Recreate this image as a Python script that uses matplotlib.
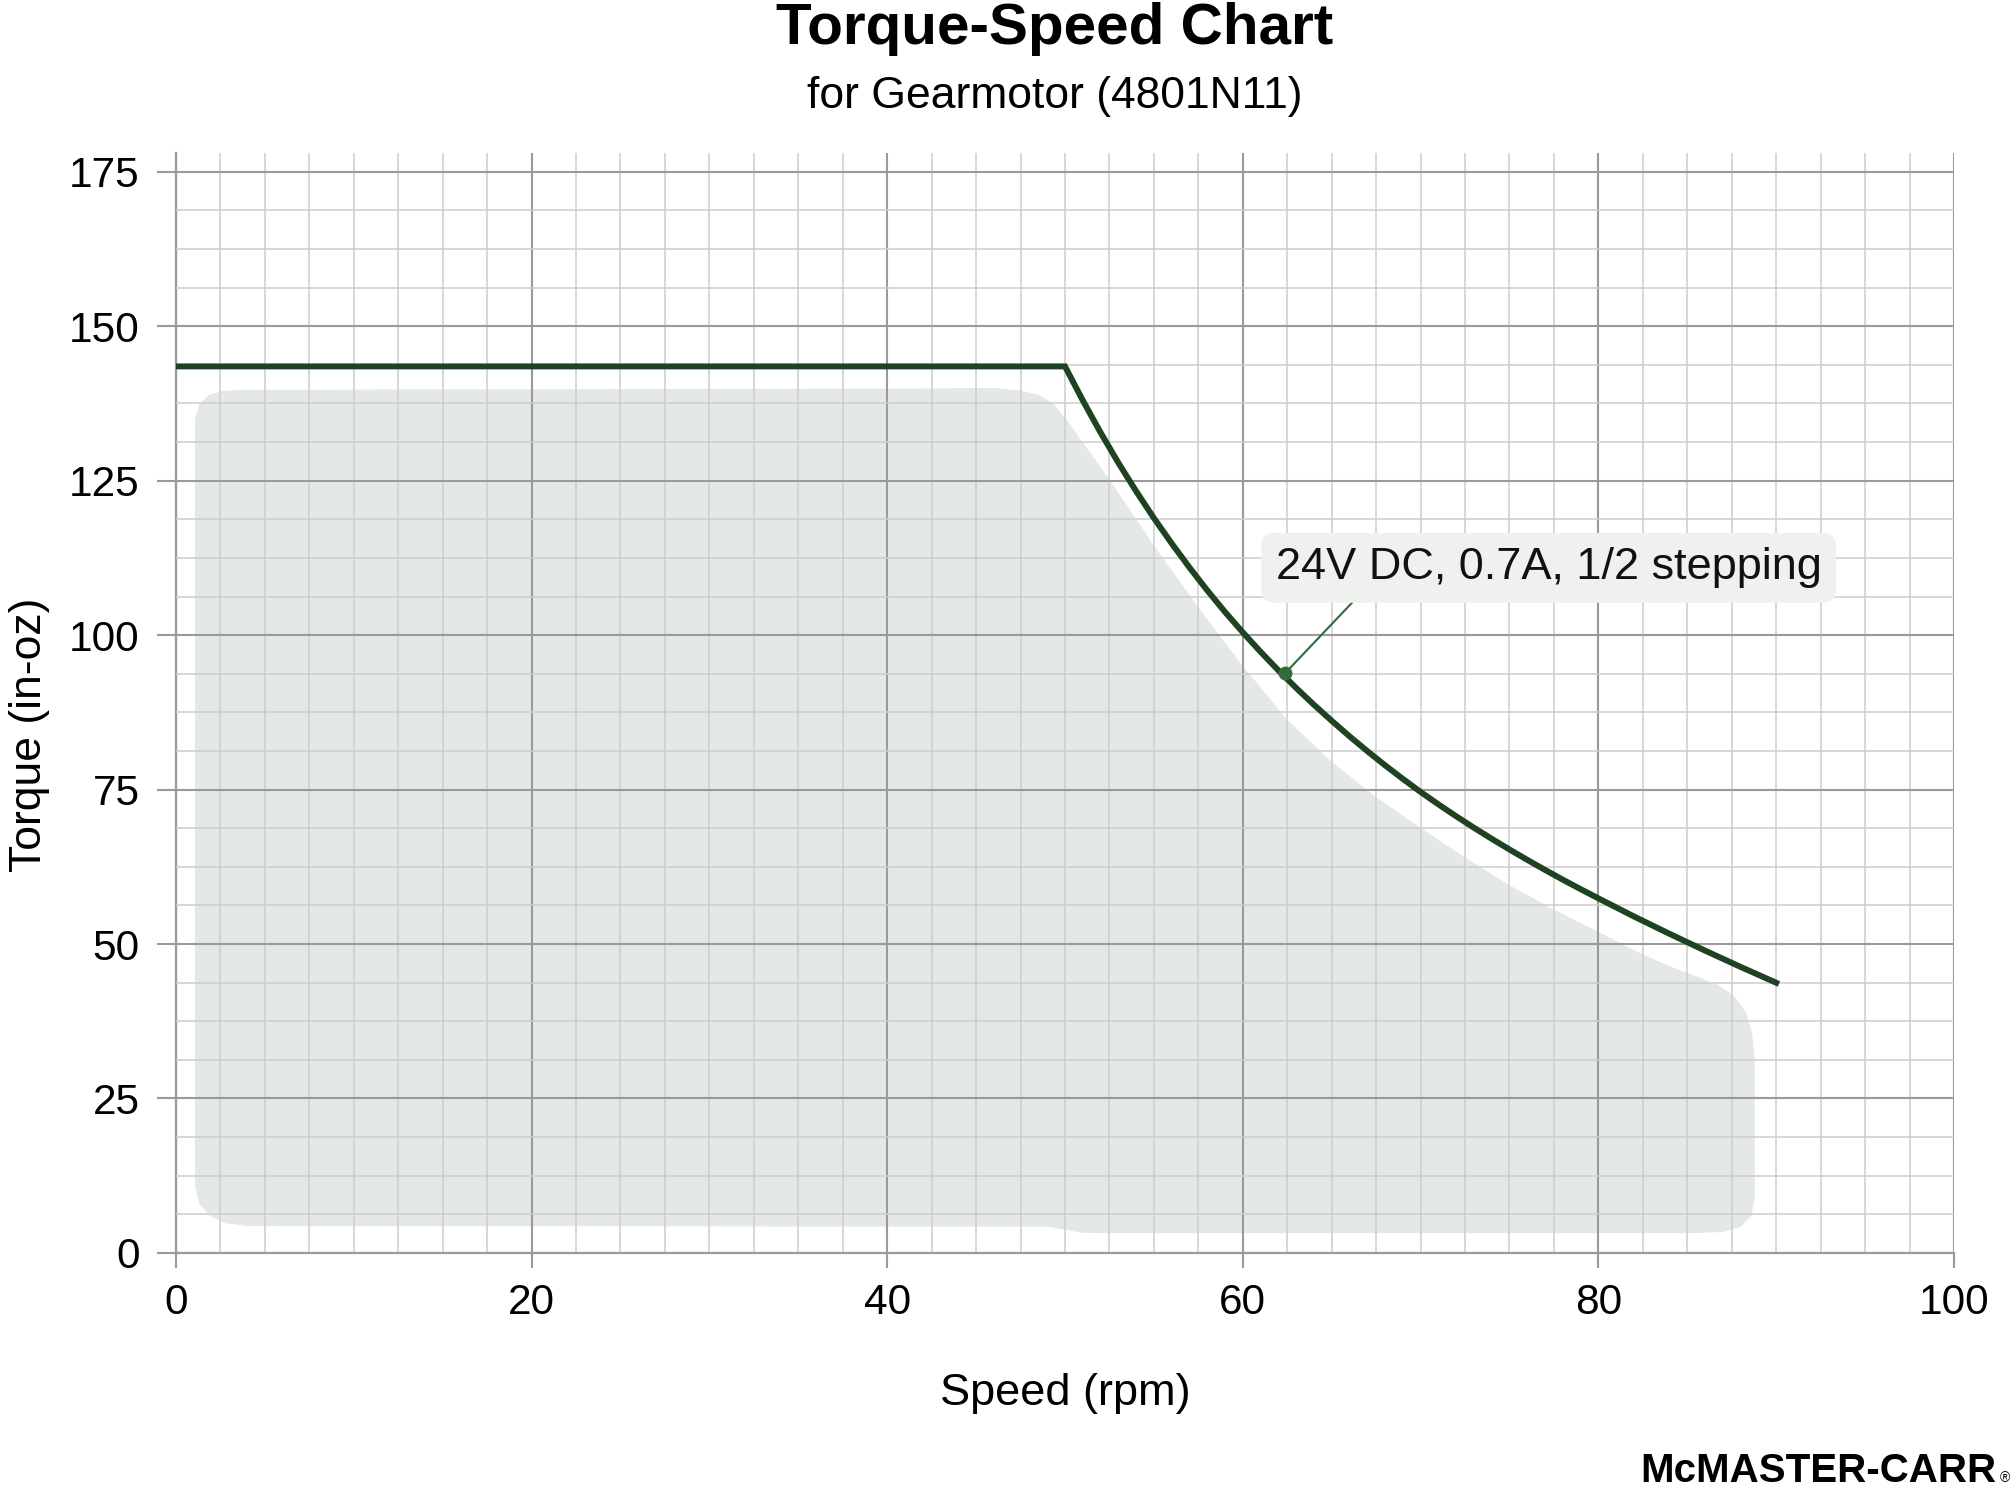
import matplotlib.pyplot as plt
from matplotlib.ticker import MultipleLocator

plt.rcParams['font.family'] = ['Liberation Sans', 'DejaVu Sans']

# curve data (speed rpm, torque in-oz)
speed = [0, 50, 51, 52, 53, 54, 55, 56, 57, 58, 59, 60, 61, 62, 63, 64, 65, 66, 67, 68, 69,
         70, 71, 72, 73, 74, 75, 76, 77, 78, 79, 80, 82, 84, 86, 88, 90]
torque = [143.5, 143.5, 138.0, 132.8, 127.9, 123.3, 118.95, 114.85, 110.95, 107.25, 103.75,
          100.45, 97.3, 94.3, 91.45, 88.73, 86.13, 83.63, 81.23, 78.93, 76.73,
          74.61, 72.61, 70.68, 68.82, 67.03, 65.30, 63.62, 61.99, 60.41, 58.88,
          57.39, 54.46, 51.65, 48.93, 46.29, 43.73]
curve_label = '24V DC, 0.7A, 1/2 stepping'
label_speed, label_torque = 62.4, 93.9   # where the callout touches the curve

# soft shaded operating region behind the curve
blob_x = [1.07, 1.3, 1.8, 2.6, 3.5, 20, 40, 46, 47.5, 48.5, 49.3, 50.2, 51.0, 52.5, 55.0,
          57.5, 60.0, 62.5, 65.0, 67.5, 70.0, 72.5, 75.0, 77.5, 80.0, 82.0, 84.0, 85.5,
          86.7, 87.6, 88.3, 88.65, 88.8, 88.8, 88.6, 88.0, 87.0, 85.5, 52, 51, 49, 4.0,
          2.8, 1.9, 1.3, 1.07]
blob_y = [135, 137.3, 138.8, 139.5, 139.7, 139.8, 139.9, 140.0, 139.6, 138.9, 137.6, 134.5,
          131.2, 125.2, 114.5, 104.5, 95.0, 86.3, 79.5, 73.8, 68.8, 64.0, 59.5, 55.6, 52.0,
          49.0, 46.4, 44.8, 43.4, 41.7, 39.0, 35.5, 31.0, 9.0, 6.0, 4.2, 3.4, 3.2, 3.2,
          3.25, 4.25, 4.35, 4.8, 6.0, 8.0, 11.0]

LINE = '#1f4322'
CALLOUT = '#336b38'
MAJOR = '#9a9a9a'
MINOR = '#cdcdcd'

fig = plt.figure(figsize=(20.13, 14.88), dpi=100)
ax = fig.add_axes([0.0874, 0.158, 0.8833, 0.739])

ax.fill(blob_x, blob_y, color='#e5e9e6', lw=0, zorder=0.2)

ax.set_xlim(0, 100)
ax.set_ylim(0, 178)
ax.xaxis.set_major_locator(MultipleLocator(20))
ax.xaxis.set_minor_locator(MultipleLocator(2.5))
ax.yaxis.set_major_locator(MultipleLocator(25))
ax.yaxis.set_minor_locator(MultipleLocator(6.25))
ax.grid(which='major', color=MAJOR, lw=1.5, zorder=0.5)
ax.grid(which='minor', color=MINOR, lw=1.1, zorder=0.5)
ax.set_axisbelow(False)

for s in ['top', 'right']:
    ax.spines[s].set_visible(False)
for s in ['left', 'bottom']:
    ax.spines[s].set_color(MAJOR)
    ax.spines[s].set_linewidth(1.6)

ax.tick_params(axis='both', which='minor', length=0)
ax.tick_params(axis='x', which='major', length=11, width=1.5, color=MAJOR, pad=11, labelsize=30.5)
ax.tick_params(axis='y', which='major', length=14, width=1.5, color=MAJOR, pad=12, labelsize=30.5)

ax.plot(speed, torque, color=LINE, lw=4.3, solid_joinstyle='miter', zorder=3)

ax.plot(label_speed, label_torque, 'o', color=CALLOUT, ms=9, zorder=4)
ax.annotate(curve_label, xy=(label_speed, label_torque), xytext=(77.2, 110.9),
            ha='center', va='center', fontsize=32.5, color='#111111', zorder=5,
            bbox=dict(boxstyle='round,pad=0.32,rounding_size=0.3', fc='#eff1ef', ec='none'),
            arrowprops=dict(arrowstyle='-', color=CALLOUT, lw=1.5, relpos=(0.165, 0),
                            shrinkA=0, shrinkB=0))

ax.set_xlabel('Speed (rpm)', fontsize=32.5, labelpad=36)
ax.set_ylabel('Torque (in-oz)', fontsize=32)
ax.yaxis.set_label_coords(-0.071, 0.471)

fig.text(0.524, 0.9707, 'Torque-Speed Chart', ha='center', va='baseline',
         fontsize=42, fontweight='bold')
fig.text(0.524, 0.9275, 'for Gearmotor (4801N11)', ha='center', va='baseline', fontsize=32)

fig.text(0.9915, 0.004, 'McMASTER-CARR', ha='right', va='baseline', fontsize=29,
         fontweight='heavy',
         family=['Liberation Sans Narrow', 'Liberation Sans'])
fig.text(0.9985, 0.004, '®', ha='right', va='baseline', fontsize=10)

fig.savefig('out.png', dpi=100, facecolor='white')
